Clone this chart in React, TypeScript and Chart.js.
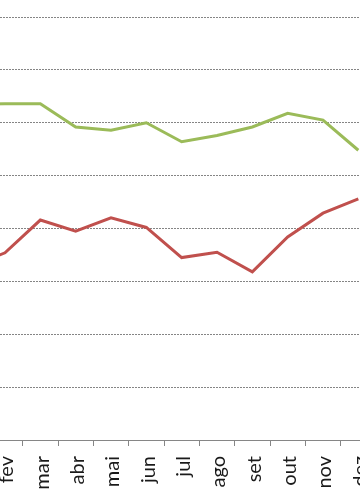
import React, { useEffect, useRef } from "react";
import { Chart, registerables } from "chart.js";

Chart.register(...registerables);

const months = ["jan", "fev", "mar", "abr", "mai", "jun", "jul", "ago", "set", "out", "nov", "dez"];
const greenSeries = [63.5, 63.6, 63.6, 59.2, 58.6, 60.0, 56.4, 57.6, 59.2, 61.8, 60.5, 54.8];
const redSeries = [32.7, 35.4, 41.6, 39.5, 42.0, 40.2, 34.5, 35.5, 31.8, 38.4, 42.9, 45.6];
const yMin = 0;
const yMax = 80;
const yStep = 10;

export default function App() {
  const ref = useRef<HTMLCanvasElement | null>(null);

  useEffect(() => {
    if (!ref.current) return;
    const chart = new Chart(ref.current, {
      type: "line",
      data: {
        labels: months,
        datasets: [
          {
            data: greenSeries,
            borderColor: "#9BBB59",
            borderWidth: 3,
            pointRadius: 0,
            tension: 0,
            fill: false,
          },
          {
            data: redSeries,
            borderColor: "#C0504D",
            borderWidth: 3,
            pointRadius: 0,
            tension: 0,
            fill: false,
          },
        ],
      },
      options: {
        responsive: false,
        animation: false,
        events: [],
        layout: { padding: { left: 12, right: 4, top: 17, bottom: 0 } },
        plugins: { legend: { display: false }, tooltip: { enabled: false }, title: { display: false } },
        scales: {
          x: {
            type: "category",
            offset: true,
            grid: {
              offset: true,
              drawOnChartArea: false,
              drawTicks: true,
              tickLength: 6,
              color: "#868686",
              lineWidth: 1,
            },
            border: { display: true, color: "#868686", width: 1 },
            ticks: {
              autoSkip: false,
              maxRotation: 90,
              minRotation: 90,
              padding: 10,
              labelOffset: 2,
              color: "#1a1a1a",
              font: { family: "Lato, 'Open Sans', sans-serif", size: 20 },
            },
            afterFit: (scale: any) => {
              scale.height = 64;
              scale.paddingLeft = 0;
              scale.paddingRight = 0;
            },
          },
          y: {
            min: yMin,
            max: yMax,
            ticks: { display: false, stepSize: yStep },
            border: { display: false, dash: [2, 1] },
            grid: {
              drawTicks: false,
              color: (ctx: any) => (ctx.tick && ctx.tick.value === 0 ? "rgba(0,0,0,0)" : "#858585"),
              lineWidth: 1,
            },
            afterFit: (scale: any) => {
              scale.width = 0;
              scale.paddingTop = 0;
              scale.paddingBottom = 0;
            },
          },
        },
      },
    });
    return () => chart.destroy();
  }, []);

  return (
    <div
      style={{
        position: "absolute",
        left: 0,
        top: 0,
        width: 360,
        height: 504,
        overflow: "hidden",
        background: "#fff",
      }}
    >
      <canvas
        ref={ref}
        width={440}
        height={504}
        style={{ position: "absolute", left: -60, top: 0, width: 440, height: 504 }}
      />
    </div>
  );
}
